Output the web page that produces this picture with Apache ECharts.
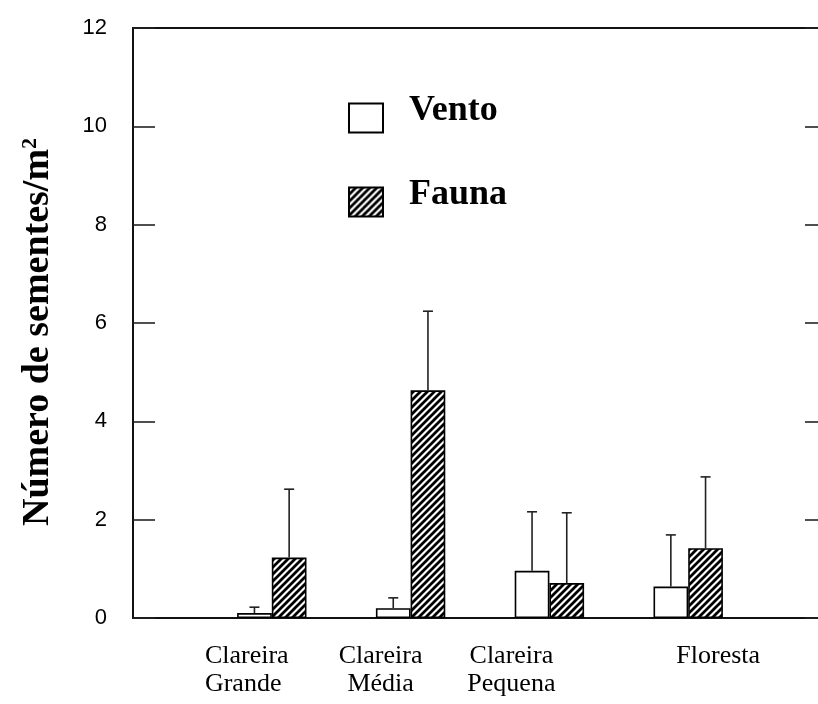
<!DOCTYPE html>
<html>
<head>
<meta charset="utf-8">
<script src="https://cdn.jsdelivr.net/npm/echarts@6/dist/echarts.min.js"></script>
<style>
  html, body { margin: 0; padding: 0; background: #fff; }
  #chart { width: 818px; height: 704px; }
</style>
</head>
<body>
<div id="chart"></div>
<script>
// Sites sampled and mean seed counts (with upper error limits) per dispersal syndrome
const CATEGORIES = ['Clareira Grande', 'Clareira Média', 'Clareira Pequena', 'Floresta'];
const SERIES_NAMES = ['Vento', 'Fauna'];
const VENTO_MEAN = [0.10, 0.20, 0.96, 0.64];
const VENTO_UPPER = [0.22, 0.41, 2.16, 1.69];
const FAUNA_MEAN = [1.23, 4.63, 0.71, 1.42];
const FAUNA_UPPER = [2.62, 6.24, 2.14, 2.87];
const Y_TICKS = [0, 2, 4, 6, 8, 10, 12];

const SERIF = "'Liberation Serif', 'Times New Roman', serif";
const SANS = "'Liberation Sans', Arial, sans-serif";
const BAR_W = 34.7;

// diagonal hatch used for the Fauna bars
function hatchPattern() {
  const s = 7;
  const c = document.createElement('canvas');
  c.width = s; c.height = s;
  const g = c.getContext('2d');
  g.fillStyle = '#fff';
  g.fillRect(0, 0, s, s);
  g.strokeStyle = '#000';
  g.lineWidth = 2.8;
  g.beginPath();
  for (let k = -1; k <= 1; k++) {
    g.moveTo(k * s - 1, s + 1);
    g.lineTo(k * s + s + 1, -1);
  }
  g.stroke();
  return c;
}

// axis slots: an empty slot at each end so groups sit on positions 1..4
const axisCats = [''].concat(CATEGORIES, ['']);
const toPairs = arr => arr.map((v, i) => [i + 1, v]);
const toErr = (m, u) => m.map((v, i) => [i + 1, v, u[i]]);

// per-label horizontal nudge (side padding) and line alignment
const labelRich = {};
const LABEL_FMT = [null,
  { align: 'left', pad: [0, 50, 0, 0] },
  { align: 'center', pad: [0, 60, 0, 0] },
  { align: 'center', pad: [0, 76, 0, 0] },
  { align: 'center', pad: [0, 0, 0, 60] }
];
LABEL_FMT.forEach((f, i) => {
  if (!f) return;
  labelRich['c' + i] = {
    fontFamily: SERIF, fontSize: 26, color: '#000', lineHeight: 28,
    align: f.align, padding: f.pad
  };
});

function errorSeries(name, means, uppers, side) {
  return {
    name: name + ' erro',
    type: 'custom',
    data: toErr(means, uppers),
    encode: { x: 0, y: [1, 2] },
    z: 3,
    silent: true,
    renderItem: function (params, api) {
      const x = api.value(0);
      const p0 = api.coord([x, api.value(1)]);
      const p1 = api.coord([x, api.value(2)]);
      const cx = p0[0] + side * BAR_W / 2;
      const style = { stroke: '#222', lineWidth: 1.6 };
      return {
        type: 'group',
        children: [
          { type: 'line', shape: { x1: cx, y1: p0[1], x2: cx, y2: p1[1] }, style: style },
          { type: 'line', shape: { x1: cx - 5, y1: p1[1], x2: cx + 5, y2: p1[1] }, style: style }
        ]
      };
    }
  };
}

const chart = echarts.init(document.getElementById('chart'), null, { renderer: 'canvas' });
const hatch = { image: hatchPattern(), repeat: 'repeat' };

chart.setOption({
  animation: false,
  backgroundColor: '#fff',
  grid: {
    left: 133, top: 28, bottom: 86, width: 694,
    outerBoundsMode: 'none',
    containLabel: false,
    show: true, borderColor: '#111', borderWidth: 2, backgroundColor: 'transparent'
  },
  legend: {
    data: SERIES_NAMES,
    orient: 'vertical',
    left: 348, top: 93,
    padding: 0,
    itemWidth: 34, itemHeight: 29, itemGap: 34,
    icon: 'rect',
    selectedMode: false,
    formatter: name => '{t|' + name + '}',
    textStyle: {
      fontFamily: SERIF, fontSize: 36, fontWeight: 'bold', color: '#000',
      rich: {
        t: {
          fontFamily: SERIF, fontSize: 36, fontWeight: 'bold', color: '#000',
          lineHeight: 36, padding: [0, 0, 14, 21]
        }
      }
    }
  },
  xAxis: {
    type: 'category',
    data: axisCats,
    boundaryGap: false,
    axisLine: { show: false },
    axisTick: { show: false },
    splitLine: { show: false },
    axisLabel: {
      interval: 0,
      margin: 24,
      fontFamily: SERIF, fontSize: 26, color: '#000',
      formatter: function (value, index) {
        if (!value) return '';
        return value.split(' ').map(w => '{c' + index + '|' + w + '}').join('\n');
      },
      rich: labelRich
    }
  },
  yAxis: [
    {
      type: 'value',
      min: Y_TICKS[0], max: Y_TICKS[Y_TICKS.length - 1], interval: 2,
      axisLine: { show: false },
      axisTick: { show: true, inside: true, length: 22, lineStyle: { color: '#222', width: 1.6 } },
      splitLine: { show: false },
      axisLabel: {
        margin: 26, fontFamily: SANS, fontSize: 22, color: '#000',
        padding: [0, 0, 14, 0]
      },
      name: 'Número de sementes/m{sup|2}',
      nameLocation: 'middle',
      nameGap: 76,
      nameTextStyle: {
        fontFamily: SERIF, fontSize: 38, fontWeight: 'bold', color: '#000',
        padding: [0, 18, 0, 0],
        rich: {
          sup: { fontFamily: SERIF, fontSize: 22, fontWeight: 'bold', color: '#000', verticalAlign: 'top' }
        }
      }
    },
    {
      type: 'value',
      position: 'right',
      min: Y_TICKS[0], max: Y_TICKS[Y_TICKS.length - 1], interval: 2,
      axisLine: { show: false },
      axisTick: { show: true, inside: true, length: 22, lineStyle: { color: '#222', width: 1.6 } },
      splitLine: { show: false },
      axisLabel: { show: false }
    }
  ],
  series: [
    {
      name: SERIES_NAMES[0],
      type: 'bar',
      data: toPairs(VENTO_MEAN),
      barWidth: BAR_W,
      barGap: '0%',
      itemStyle: { color: '#fff', borderColor: '#000', borderWidth: 1.6 },
      z: 2
    },
    {
      name: SERIES_NAMES[1],
      type: 'bar',
      data: toPairs(FAUNA_MEAN),
      barWidth: BAR_W,
      barGap: '0%',
      itemStyle: { color: hatch, borderColor: '#000', borderWidth: 1.6 },
      z: 2
    },
    errorSeries(SERIES_NAMES[0], VENTO_MEAN, VENTO_UPPER, -1),
    errorSeries(SERIES_NAMES[1], FAUNA_MEAN, FAUNA_UPPER, 1)
  ]
});
</script>
</body>
</html>
